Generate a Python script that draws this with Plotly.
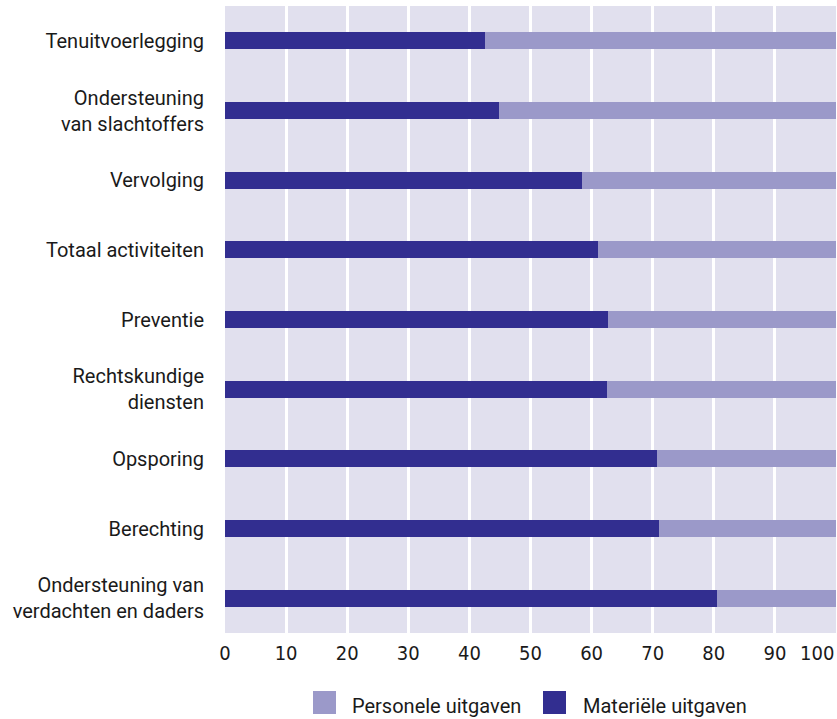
import plotly.graph_objects as go

categories = [
    "Tenuitvoerlegging",
    "Ondersteuning<br>van slachtoffers",
    "Vervolging",
    "Totaal activiteiten",
    "Preventie",
    "Rechtskundige<br>diensten",
    "Opsporing",
    "Berechting",
    "Ondersteuning van<br>verdachten en daders",
]
materiele = [42.6, 44.9, 58.5, 61.1, 62.7, 62.5, 70.7, 71.1, 80.5]
personele = [round(100 - v, 1) for v in materiele]
tick_vals = [0, 10, 20, 30, 40, 50, 60, 70, 80, 90]
legend_items = ["Personele uitgaven", "Materiële uitgaven"]

DARK = "#322e90"
LIGHT = "#9b99c9"
BG = "#e1e0ee"
FONT = "Roboto, Liberation Sans, sans-serif"
NUMFONT = "Liberation Sans Narrow, DejaVu Sans Condensed, Roboto, sans-serif"
TXT = "#1a1a1a"

W, H = 837, 719
ML, MR, MT, MB = 225, 1, 6, 86
PW, PH = W - ML - MR, H - MT - MB


def px_x(px):
    return (px - ML) / PW


def px_y(py):
    return (H - MB - py) / PH


fig = go.Figure()
fig.add_trace(go.Bar(y=categories, x=materiele, orientation="h", marker=dict(color=DARK, line=dict(width=0)),
                     width=0.24, name="Materiële uitgaven", showlegend=False, hoverinfo="x+y"))
fig.add_trace(go.Bar(y=categories, x=personele, orientation="h", marker=dict(color=LIGHT, line=dict(width=0)),
                     width=0.24, name="Personele uitgaven", showlegend=False, hoverinfo="x+y"))

# legend drawn as swatches + labels
shapes = []
annotations = []
legend_colors = [LIGHT, DARK]
swatch_left = [313, 543]
text_left = [350, 581]
for name, col, sx, tx in zip(legend_items, legend_colors, swatch_left, text_left):
    shapes.append(dict(type="rect", xref="paper", yref="paper",
                       xsizemode="pixel", ysizemode="pixel",
                       xanchor=px_x(sx), yanchor=px_y(702.5),
                       x0=0, x1=23, y0=-11.5, y1=11.5,
                       fillcolor=col, line=dict(width=0)))
    annotations.append(dict(x=px_x(tx), y=px_y(706), xref="paper", yref="paper", text=name,
                            showarrow=False, xanchor="left", yanchor="middle",
                            font=dict(family=FONT, size=20, color=TXT)))

annotations.append(dict(x=100, y=0, xref="x", yref="paper", text="100", showarrow=False,
                        xanchor="right", yanchor="top", yshift=-6, xshift=0,
                        font=dict(family=NUMFONT, size=20, color=TXT)))

fig.update_layout(
    width=W, height=H,
    margin=dict(l=ML, r=MR, t=MT, b=MB, autoexpand=False),
    barmode="stack",
    showlegend=False,
    paper_bgcolor="white",
    plot_bgcolor=BG,
    font=dict(family=FONT, size=20, color=TXT),
    xaxis=dict(range=[0, 100], tickvals=tick_vals, showgrid=True, gridcolor="white", gridwidth=3,
               zeroline=False, showline=False, ticks="", ticklabelstandoff=6, automargin=False,
               tickfont=dict(family=NUMFONT, size=20, color=TXT), fixedrange=True),
    yaxis=dict(autorange="reversed", showgrid=False, zeroline=False, ticks="", automargin=False,
               ticklabelstandoff=20, tickfont=dict(size=20, color=TXT), fixedrange=True),
    shapes=shapes,
    annotations=annotations,
)

fig.write_html("out.html", config={"displayModeBar": False},
               post_script="document.body.style.margin='0';document.body.style.padding='0';")
